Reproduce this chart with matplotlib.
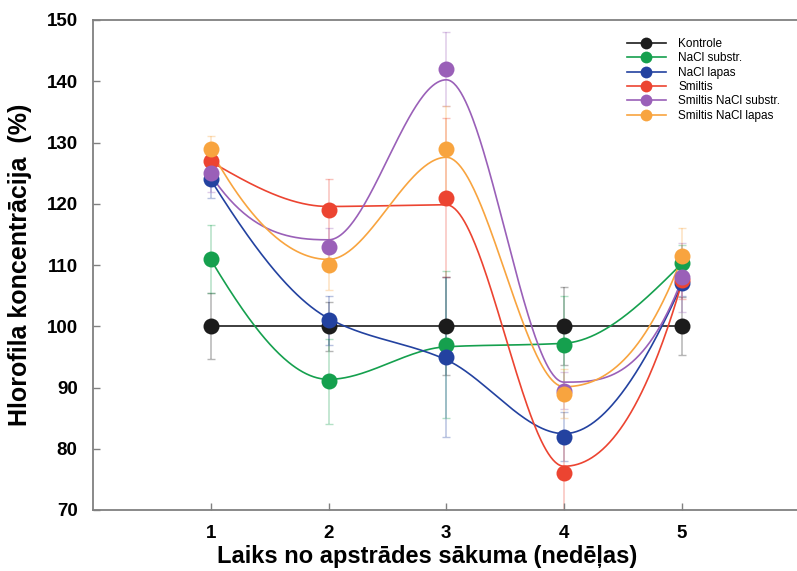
import numpy as np
import matplotlib.pyplot as plt
from matplotlib.lines import Line2D

plt.rcParams['font.family'] = ['Liberation Sans', 'DejaVu Sans']

# Data
weeks = [1, 2, 3, 4, 5]
names = ["Kontrole", "NaCl substr.", "NaCl lapas", "Smiltis",
         "Smiltis NaCl substr.", "Smiltis NaCl lapas"]
kontrole = [100, 100, 100, 100, 100]
nacl_substr = [111, 91, 97, 97, 110.3]
nacl_lapas = [124, 101, 95, 82, 107]
smiltis = [127, 119, 121, 76, 107.5]
smiltis_nacl_substr = [125, 113, 142, 89.5, 108]
smiltis_nacl_lapas = [129, 110, 129, 89, 111.5]

err_kontrole = [5.4, 4, 8, 6.4, 4.7]
err_nacl_substr = [5.5, 7, 12, 8, 3]
err_nacl_lapas = [3, 4, 13, 4, 2]
err_smiltis = [2, 5, 13, 6.5, 3]
err_smiltis_nacl_substr = [3, 3, 6, 3, 5.6]
err_smiltis_nacl_lapas = [2, 4, 7, 4, 4.5]

colors = ["#1c1c1c", "#15a04e", "#2342a0", "#ec4431", "#9a60b8", "#f8a43f"]
series = [kontrole, nacl_substr, nacl_lapas, smiltis,
          smiltis_nacl_substr, smiltis_nacl_lapas]
errors = [err_kontrole, err_nacl_substr, err_nacl_lapas, err_smiltis,
          err_smiltis_nacl_substr, err_smiltis_nacl_lapas]


# light smoothing of the knot values (Reinsch penalty)
def smooth_values(x, y, lam):
    x = np.asarray(x, float)
    y = np.asarray(y, float)
    n = len(x)
    h = np.diff(x)
    Q = np.zeros((n, n - 2))
    R = np.zeros((n - 2, n - 2))
    for j in range(1, n - 1):
        Q[j - 1, j - 1] = 1 / h[j - 1]
        Q[j, j - 1] = -1 / h[j - 1] - 1 / h[j]
        Q[j + 1, j - 1] = 1 / h[j]
        R[j - 1, j - 1] = (h[j - 1] + h[j]) / 3
        if j < n - 2:
            R[j - 1, j] = h[j] / 6
            R[j, j - 1] = h[j] / 6
    K = Q @ np.linalg.solve(R, Q.T)
    return np.linalg.solve(np.eye(n) + lam * K, y)


# shape preserving cubic (PCHIP, Fritsch-Carlson)
def pchip(x, y, xs):
    x = np.asarray(x, float)
    y = np.asarray(y, float)
    h = np.diff(x)
    d = np.diff(y) / h
    n = len(x)
    m = np.zeros(n)
    for k in range(1, n - 1):
        if d[k - 1] * d[k] > 0:
            w1 = 2 * h[k] + h[k - 1]
            w2 = h[k] + 2 * h[k - 1]
            m[k] = (w1 + w2) / (w1 / d[k - 1] + w2 / d[k])

    def end(h0, h1, d0, d1):
        v = ((2 * h0 + h1) * d0 - h0 * d1) / (h0 + h1)
        if np.sign(v) != np.sign(d0):
            v = 0.0
        elif np.sign(d0) != np.sign(d1) and abs(v) > abs(3 * d0):
            v = 3 * d0
        return v
    m[0] = end(h[0], h[1], d[0], d[1])
    m[-1] = end(h[-1], h[-2], d[-1], d[-2])
    out = np.empty_like(xs)
    for k, xv in enumerate(xs):
        i = int(np.clip(np.searchsorted(x, xv, side="right") - 1, 0, n - 2))
        t = (xv - x[i]) / h[i]
        h00 = 2 * t**3 - 3 * t**2 + 1
        h10 = t**3 - 2 * t**2 + t
        h01 = -2 * t**3 + 3 * t**2
        h11 = t**3 - t**2
        out[k] = (h00 * y[i] + h10 * h[i] * m[i] + h01 * y[i + 1]
                  + h11 * h[i] * m[i + 1])
    return out


fig = plt.figure(figsize=(7.97, 5.71), dpi=100)
ax = fig.add_axes([93 / 797, 61 / 571, 706.5 / 797, 490 / 571])

xs = np.linspace(1, 5, 400)
for name, ys, es, c in zip(names, series, errors, colors):
    ax.errorbar(weeks, ys, yerr=es, fmt="none", ecolor=c, alpha=0.32,
                elinewidth=1.1, capsize=3, capthick=1.0, zorder=1)
for name, ys, es, c in zip(names, series, errors, colors):
    g = smooth_values(weeks, ys, 0.003)
    ax.plot(xs, pchip(weeks, g, xs), color=c, lw=1.2, zorder=2)
    ax.plot(weeks, ys, "o", color=c, ms=11.5, mew=0, zorder=3)

ax.set_xlim(0, 6)
ax.set_ylim(70, 150)
ax.set_xticks(weeks)
ax.set_yticks(range(70, 151, 10))
ax.tick_params(direction="in", length=5, width=1, color="#808080",
               labelsize=13.5, pad=11)
for lab in ax.get_xticklabels() + ax.get_yticklabels():
    lab.set_fontweight("bold")
for s in ax.spines.values():
    s.set_color("#808080")
    s.set_linewidth(1.3)

handles = [Line2D([0], [0], color=c, lw=1.2, marker="o", ms=8.5, mew=0)
           for c in colors]
ax.legend(handles, names, loc="upper left", frameon=False,
          bbox_to_anchor=(627 / 797, 1 - 38 / 571),
          bbox_transform=fig.transFigure, borderaxespad=0, borderpad=0,
          fontsize=8.5, handlelength=3.3, handletextpad=1.05,
          labelspacing=0.2)

fig.text(427 / 797, 1 - 556 / 571, "Laiks no apstrādes sākuma (nedēļas)",
         ha="center", va="center", fontsize=17, fontweight="bold")
fig.text(20 / 797, 1 - 265 / 571, "Hlorofila koncentrācija  (%)",
         ha="center", va="center", rotation=90, fontsize=18,
         fontweight="bold")

fig.savefig("out.png", dpi=100)
